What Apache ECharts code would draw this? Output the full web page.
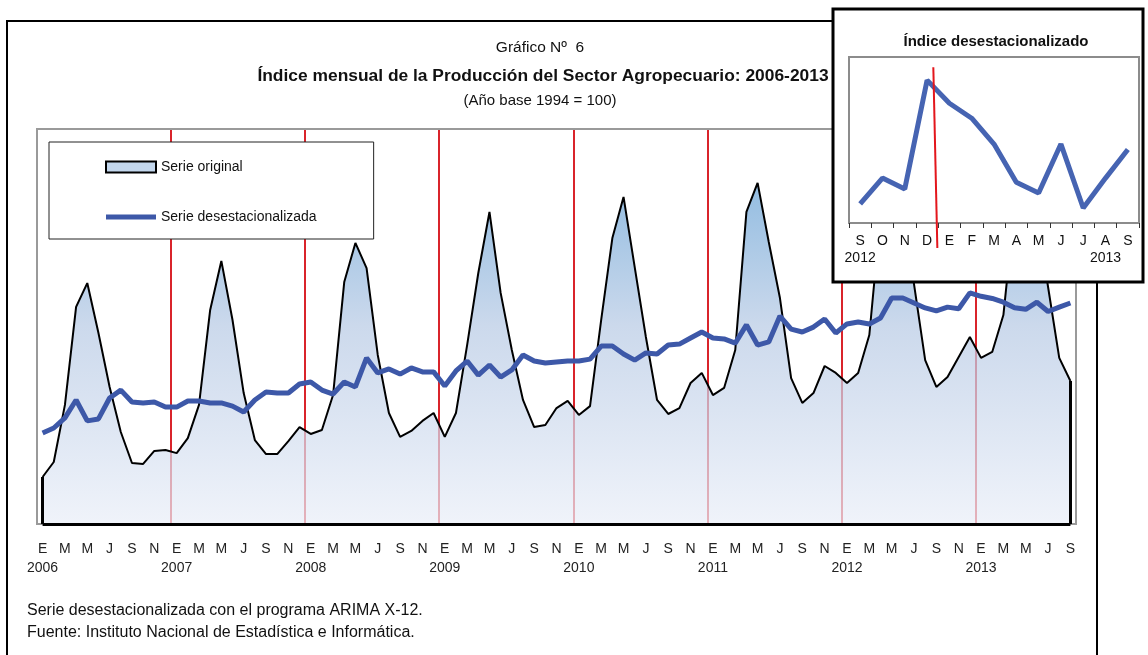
<!DOCTYPE html>
<html><head><meta charset="utf-8">
<script src="https://cdn.jsdelivr.net/npm/echarts@6/dist/echarts.min.js"></script>
<style>html,body{margin:0;padding:0;background:#fff}#c{width:1148px;height:655px}</style>
</head><body><div id="c"></div>
<script>
const years = ['2006','2007','2008','2009','2010','2011','2012','2013'];
const monthLetters = ['E','F','M','A','M','J','J','A','S','O','N','D'];
const serieOriginal = [
 123.8,131.4,160.3,209.9,222.0,196.7,169.4,146.6,130.9,130.4,137.0,137.5,
 135.9,143.5,160.3,208.4,233.2,203.3,166.3,142.5,135.4,135.4,142.0,149.1,
 145.6,147.6,165.3,222.5,242.3,229.6,185.6,156.2,144.1,147.1,152.2,156.2,
 144.1,156.2,190.6,227.1,258.0,217.0,188.1,162.8,149.1,150.1,158.7,162.3,
 155.2,159.7,203.3,244.8,265.6,230.1,194.7,162.8,155.7,158.7,171.4,176.5,
 165.3,168.9,188.1,258.0,272.7,242.8,214.4,173.9,161.3,166.3,180.0,176.5,
 171.4,176.5,195.7,256.0,276.7,253.9,221.5,183.0,169.4,174.4,184.6,194.7,
 184.1,187.1,205.8,260.5,281.8,256.5,220.0,184.1,172.4
];
const serieDesest = [
 146.1,148.6,153.7,162.8,152.2,153.2,163.8,167.8,161.8,161.3,161.8,159.2,
 159.2,162.3,162.3,161.3,161.3,159.7,156.7,162.8,166.8,166.3,166.3,170.9,
 171.9,167.8,165.8,171.9,169.4,184.1,176.5,178.5,175.9,179.0,177.0,177.0,
 169.9,177.5,182.5,175.4,180.5,174.4,178.0,185.6,182.5,181.5,182.0,182.5,
 182.5,183.5,190.1,190.1,186.1,183.0,186.6,186.1,190.6,191.1,194.2,197.2,
 194.2,193.7,191.6,200.8,190.6,192.2,205.3,198.7,197.2,199.7,203.8,196.7,
 201.3,202.3,201.3,204.3,214.4,214.4,211.9,209.4,207.9,209.8,209.0,217.0,
 215.3,214.2,212.3,209.5,208.7,212.3,207.6,209.8,211.9
];
const insetLetters = ['S','O','N','D','E','F','M','A','M','J','J','A','S'];
const insetYears = ['2012','','','','','','','','','','','2013',''];
const insetValues = serieDesest.slice(-13);

const categories = [];
for (let i = 0; i < serieOriginal.length; i++) {
  categories.push(years[Math.floor(i/12)] + '-' + (i%12+1));
}
const insetCategories = categories.slice(-13);

const SANS = "'Liberation Sans',Arial,sans-serif";
const Y_MIN = 100, Y_MAX = 300;
const INSET_MIN = 206.5, INSET_MAX = 218.7;
const last = serieOriginal.length - 1;

const chart = echarts.init(document.getElementById('c'), null, {renderer:'canvas'});

const baseGraphic = [
  {id:'outer', type:'rect', z:-1, shape:{x:7,y:21,width:1090,height:700}, style:{fill:'none', stroke:'#000', lineWidth:2}},
  {id:'insetBox', type:'rect', z:10, shape:{x:833,y:9,width:310,height:273}, style:{fill:'#fff', stroke:'#000', lineWidth:3}}
];

const option = {
  animation:false,
  backgroundColor:'#fff',
  title:[
    {text:'Gráfico Nº  6', left:540, top:40, textAlign:'center', padding:0,
     textStyle:{fontFamily:SANS, fontSize:15.5, fontWeight:'normal', color:'#111'}},
    {text:'Índice mensual de la Producción del Sector Agropecuario: 2006-2013', left:543, top:68, textAlign:'center', padding:0,
     textStyle:{fontFamily:SANS, fontSize:17.4, fontWeight:'bold', color:'#111'}},
    {text:'(Año base 1994 = 100)', left:540, top:93, textAlign:'center', padding:0,
     textStyle:{fontFamily:SANS, fontSize:15, fontWeight:'normal', color:'#111'}},
    {text:'Serie desestacionalizada con el programa ARIMA X-12.', left:27, top:603, padding:0,
     textStyle:{fontFamily:SANS, fontSize:16, fontWeight:'normal', color:'#111'}},
    {text:'Fuente: Instituto Nacional de Estadística e Informática.', left:27, top:625, padding:0,
     textStyle:{fontFamily:SANS, fontSize:16, fontWeight:'normal', color:'#111'}},
    {text:'Índice desestacionalizado', left:996, top:34, textAlign:'center', padding:0, z:13,
     textStyle:{fontFamily:SANS, fontSize:15, fontWeight:'bold', color:'#111'}}
  ],
  legend:{
    left:49, top:142, orient:'vertical', itemWidth:50, itemHeight:11, itemGap:36,
    padding:[18,57,15,56], backgroundColor:'#fff', borderColor:'#222', borderWidth:1,
    textStyle:{fontFamily:SANS, fontSize:14, color:'#111'},
    data:[
      {name:'Serie original', icon:'rect', itemStyle:{color:'#c3d7ed', borderColor:'#000', borderWidth:2}},
      {name:'Serie desestacionalizada', icon:'path://M0,0L10,0L10,1L0,1Z', itemStyle:{color:'#3d58a8', borderWidth:0}}
    ]
  },
  grid:[
    {left:37, right:72, top:129, bottom:131, show:true, borderColor:'#9a9a9a', borderWidth:2, backgroundColor:'transparent', z:4},
    {left:849, top:57, width:290, height:166, show:true, borderColor:'#8c8c8c', borderWidth:2, backgroundColor:'#fff', z:11}
  ],
  xAxis:[
    {type:'category', gridIndex:0, data:categories, boundaryGap:true,
     axisLine:{show:false}, axisTick:{show:false},
     splitLine:{show:true, interval:function(i){return i%12===0;}, lineStyle:{color:'#d9242b', width:2}},
     axisLabel:{show:true, showMinLabel:true, showMaxLabel:true, hideOverlap:false,
       interval:function(i){return i%2===0;}, margin:16, lineHeight:19,
       fontFamily:SANS, fontSize:14, color:'#222',
       formatter:function(v, i){ const m = monthLetters[i%12]; return (i%12===0) ? m + '\n' + years[Math.floor(i/12)] : m; }}
    },
    {type:'category', gridIndex:1, data:insetCategories, boundaryGap:true, z:12,
     axisLine:{show:true, lineStyle:{color:'#8c8c8c', width:2}},
     axisTick:{show:true, length:5, lineStyle:{color:'#333', width:1}},
     splitLine:{show:false},
     axisLabel:{show:true, showMinLabel:true, showMaxLabel:true, interval:0, margin:10, lineHeight:17, fontFamily:SANS, fontSize:14, color:'#111',
       formatter:function(v, i){ return insetYears[i] ? insetLetters[i] + '\n' + insetYears[i] : insetLetters[i]; }}
    }
  ],
  yAxis:[
    {type:'value', gridIndex:0, min:Y_MIN, max:Y_MAX, show:false, splitLine:{show:false}},
    {type:'value', gridIndex:1, min:INSET_MIN, max:INSET_MAX, show:false, splitLine:{show:false}, z:12}
  ],
  series:[
    {name:'Serie original', type:'line', xAxisIndex:0, yAxisIndex:0, data:serieOriginal, symbol:'none', z:2,
     lineStyle:{color:'#000', width:2}, itemStyle:{color:'#c3d7ed'},
     areaStyle:{opacity:0.7, color:new echarts.graphic.LinearGradient(0,0,0,1,[
       {offset:0, color:'#5a9bd2'},{offset:0.45, color:'#b6c9e4'},{offset:1, color:'#e9eef8'}])},
     markLine:{silent:true, symbol:['none','none'], label:{show:false}, animation:false,
       lineStyle:{color:'#000', width:3, type:'solid'}, emphasis:{disabled:true},
       data:[
         [{coord:[categories[0], Y_MIN]},{coord:[categories[0], serieOriginal[0]]}],
         [{coord:[categories[0], Y_MIN]},{coord:[categories[last], Y_MIN]}],
         [{coord:[categories[last], Y_MIN]},{coord:[categories[last], serieOriginal[last]]}]
       ]}
    },
    {name:'Serie desestacionalizada', type:'line', xAxisIndex:0, yAxisIndex:0, data:serieDesest, symbol:'none', z:3,
     lineStyle:{color:'#3d58a8', width:5}, itemStyle:{color:'#3d58a8'}},
    {name:'inset', type:'line', xAxisIndex:1, yAxisIndex:1, data:insetValues, symbol:'none', z:12,
     lineStyle:{color:'#4664b2', width:5}, itemStyle:{color:'#4664b2'}}
  ],
  graphic:{elements:baseGraphic}
};
chart.setOption(option);

// red marker between D and E of the inset, positioned through the inset axes
const pD = chart.convertToPixel({xAxisIndex:1, yAxisIndex:1}, [3, 217.95]);
const pEtop = chart.convertToPixel({xAxisIndex:1, yAxisIndex:1}, [4, 217.95]);
const pDbot = chart.convertToPixel({xAxisIndex:1, yAxisIndex:1}, [3, 204.67]);
const step = pEtop[0] - pD[0];
chart.setOption({graphic:{elements:baseGraphic.concat([
  {id:'insetRed', type:'line', z:13, shape:{x1:pD[0]+step*0.28, y1:pD[1], x2:pDbot[0]+step*0.46, y2:pDbot[1]},
   style:{stroke:'#e3161c', lineWidth:2}}
])}});
</script>
</body></html>
